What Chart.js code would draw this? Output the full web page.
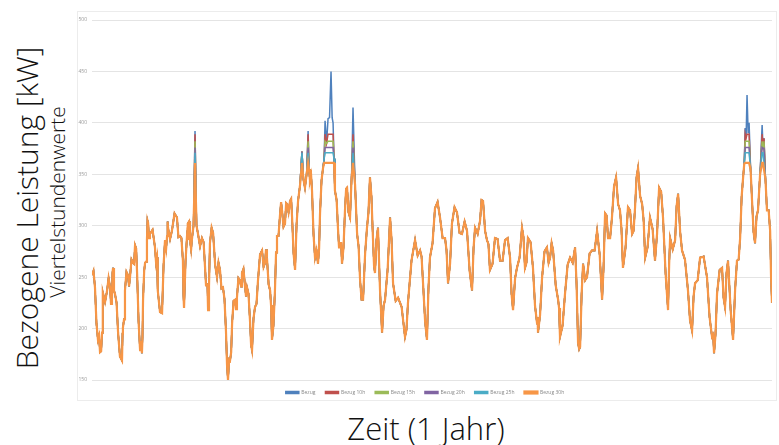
<!DOCTYPE html>
<html><head><meta charset="utf-8">
<script src="https://cdn.jsdelivr.net/npm/chart.js@4"></script>
<style>
html,body{margin:0;padding:0;background:#fff;width:779px;height:445px;overflow:hidden;font-family:"Open Sans","Noto Sans",sans-serif;}
#box{position:absolute;left:77px;top:11px;width:698px;height:388px;border:1px solid #ececec;background:#fff;}
#c{position:absolute;left:0;top:0;display:block}
.lbl{position:absolute;color:#111;white-space:nowrap;font-weight:300;line-height:1;}
#yt{left:27px;top:208px;font-size:30px;transform:translate(-50%,-50%) rotate(-90deg);}
#ys{left:57px;top:202px;font-size:21px;transform:translate(-50%,-50%) rotate(-90deg);}
#xt{left:426px;top:428px;font-size:31px;transform:translate(-50%,-50%);}
</style></head>
<body>
<div id="box"><canvas id="c" width="698" height="393"></canvas></div>
<div class="lbl" id="yt">Bezogene Leistung [kW]</div>
<div class="lbl" id="ys">Viertelstundenwerte</div>
<div class="lbl" id="xt">Zeit (1 Jahr)</div>
<script>
// day of year of main readings
const days = [0,1.6,3.2,4.3,5.4,5.9,8.1,9.7,10.7,11.3,
12.3,14.0,16.1,16.6,17.7,19.3,20.4,22.0,23.1,24.2,
25.8,26.8,27.4,28.5,29.5,30.1,31.1,33.8,34.9,35.4,
37.6,39.2,40.3,40.8,42.9,45.6,47.2,48.8,49.4,51.0,
51.5,52.6,53.7,55.3,56.9,59.0,60.7,61.7,62.3,63.3,
65.0,67.1,68.7,70.3,71.9,73.0,74.1,75.2,76.8,77.8,
79.4,80.5,82.1,83.2,84.8,85.9,87.5,89.1,91.3,92.9,
93.9,95.6,96.6,98.2,99.3,100.9,102.0,103.6,104.7,106.3,
107.4,109.0,110.6,112.7,114.3,116.0,117.0,118.1,119.7,121.3,
122.4,124.0,125.1,126.7,128.3,129.4,130.4,132.1,133.1,134.2,
135.8,136.9,138.5,140.1,142.3,143.9,145.5,147.6,149.2,150.8,
151.9,153.5,155.7,157.3,160.0,161.6,164.3,168.0,169.6,173.4,
176.1,177.7,179.8,181.4,184.1,186.8,189.5,191.1,193.2,195.9,
198.6,201.3,204.0,205.6,208.3,209.9,212.0,213.6,216.3,219.0,
221.7,224.4,226.0,228.1,230.8,232.4,234.0,236.7,238.9,239.4,
241.6,244.2,245.9,247.5,250.2,251.2,253.9,256.6,259.3,260.9,
262.0,263.6,265.7,268.4,271.1,273.8,275.4,277.0,279.1,281.3,
283.4,285.0,287.7,289.9,291.5,293.1,295.3,296.9,299.5,302.2,
304.4,306.5,309.2,310.3,313.0,314.6,316.7,319.9,322.1,323.7,
326.4,330.1,332.8,333.9,335.5,338.2,339.8,341.4,344.1,346.2,
347.9,349.5,350.6,351.6,352.7,354.3,355.9,357.5,359.7,360.7,
362.3,364.0,365.0];
// measured load (kW), uncapped
const load = [252,240,189,177,196,235,237,240,228,259,
234,196,169,201,237,252,250,264,281,254,
179,176,228,264,286,303,292,279,269,237,
215,286,290,298,295,308,290,266,220,290,
302,286,288,392,292,288,259,244,218,283,
293,250,257,240,198,150,169,205,228,230,
247,254,242,240,208,179,221,247,276,264,
269,237,189,237,290,310,315,302,321,324,
308,257,324,372,337,392,344,334,269,263,
312,356,402,404,450,400,334,295,283,263,
315,337,308,415,292,247,228,298,347,288,
254,298,196,228,308,244,230,192,225,286,
276,244,189,269,317,308,288,244,302,313,
292,295,237,298,305,324,286,257,288,266,
286,269,218,259,298,259,288,259,205,196,
250,279,269,276,228,192,234,269,279,186,
182,263,250,276,295,228,312,288,308,347,
315,259,318,292,318,356,321,269,308,266,
337,308,218,288,286,331,276,237,198,244,
269,250,192,176,234,259,221,266,189,266,
288,347,395,427,400,324,283,315,398,385,
315,295,225];
// in-between readings (short-term fluctuation)
const midDays = [0.8,2.4,3.8,4.9,5.7,7.0,8.9,10.2,11.0,11.8,
13.2,15.0,16.4,17.2,18.5,19.9,21.2,22.6,23.7,25.0,
26.3,27.1,28.0,29.0,29.8,30.6,32.5,34.4,35.2,36.5,
38.4,39.8,40.6,41.9,44.3,46.4,48.0,49.1,50.2,51.3,
52.1,53.2,54.5,56.1,58.0,59.9,61.2,62.0,62.8,64.2,
66.1,67.9,69.5,71.1,72.5,73.6,74.7,76.0,77.3,78.6,
80.0,81.3,82.7,84.0,85.4,86.7,88.3,90.2,92.1,93.4,
94.8,96.1,97.4,98.8,100.1,101.5,102.8,104.2,105.5,106.9,
108.2,109.8,111.7,113.5,115.2,116.5,117.6,118.9,120.5,121.9,
123.2,124.6,125.9,127.5,128.9,129.9,131.3,132.6,133.7,135.0,
136.4,137.7,139.3,141.2,143.1,144.7,146.6,148.4,150.0,151.4,
152.7,154.6,156.5,158.7,160.8,163.0,166.2,168.8,171.5,174.8,
176.9,178.8,180.6,182.8,185.5,188.2,190.3,192.2,194.6,197.3,
200.0,202.7,204.8,207.0,209.1,211.0,212.8,215.0,217.7,220.4,
223.1,225.2,227.1,229.5,231.6,233.2,235.4,237.8,239.2,240.5,
242.9,245.1,246.7,248.9,250.7,252.6,255.3,258.0,260.1,261.5,
262.8,264.7,267.1,269.8,272.5,274.6,276.2,278.1,280.2,282.4,
284.2,286.4,288.8,290.7,292.3,294.2,296.1,298.2,300.9,303.3,
305.5,307.9,309.8,311.7,313.8,315.7,318.3,321.0,322.9,325.1,
328.3,331.5,333.4,334.7,336.9,339.0,340.6,342.8,345.2,347.1,
348.7,350.1,351.1,352.2,353.5,355.1,356.7,358.6,360.2,361.5,
363.2,364.5];
const midLoad = [256,205,193,178,226,226,249,224,254,237,
225,173,195,209,255,241,267,263,278,207,
188,192,256,265,305,288,296,264,263,216,
261,278,304,287,312,289,288,233,265,286,
304,277,300,300,280,284,242,241,241,298,
262,264,239,229,164,170,177,227,219,249,
241,258,231,234,184,210,224,272,260,277,
243,223,203,274,290,323,299,322,313,326,
273,301,340,345,350,355,349,292,276,278,
344,365,380,405,405,365,325,279,283,279,
336,313,345,340,280,228,273,313,328,261,
286,237,222,258,286,227,221,199,266,271,
270,207,239,283,323,288,276,263,318,293,
304,256,278,292,325,295,282,263,287,266,
288,234,249,269,289,264,284,222,211,213,
275,264,283,242,220,203,262,264,243,180,
233,247,273,276,272,260,310,288,338,321,
297,279,315,295,347,329,305,279,297,292,
333,253,263,277,319,294,267,208,231,247,
270,211,194,195,257,230,254,218,238,267,
328,360,385,390,355,294,309,350,375,345,
315,250];
// series names and peak limits (kW) read from the plateaus
const seriesNames = ["Bezug","Bezug 10h","Bezug 15h","Bezug 20h","Bezug 25h","Bezug 30h"];
const limits = [null,389,382,376,371,361];
const colors = ["#4F81BD","#C0504D","#9BBB59","#8064A2","#4BACC6","#F79646"];
const yTicks = [150,200,250,300,350,400,450,500];

// merge main and in-between readings in time order
const pts = [];
for (let k=0;k<days.length;k++){
  pts.push([days[k],load[k]]);
  if (k<midDays.length) pts.push([midDays[k],midLoad[k]]);
}

const datasets = seriesNames.map((name,i)=>({
  label:name,
  data: pts.map(p=>({x:p[0], y: limits[i]==null ? p[1] : Math.min(p[1], limits[i])})),
  borderColor:colors[i], backgroundColor:colors[i],
  borderWidth: i===5 ? 2.2 : 1.5, pointRadius:0, tension:0,
  order: 5-i
}));

new Chart(document.getElementById('c'),{
  type:'line',
  data:{datasets},
  options:{
    responsive:false, animation:false, events:[],
    layout:{padding:{left:0,right:4,top:6,bottom:0}},
    plugins:{
      tooltip:{enabled:false},
      legend:{position:'bottom',
        labels:{font:{size:5,family:'Open Sans'},color:'#888',boxWidth:13,boxHeight:2,padding:10,
          sort:(a,b)=>a.datasetIndex-b.datasetIndex}}
    },
    scales:{
      x:{type:'linear',min:0,max:365,display:false},
      y:{min:150,max:500,
        afterBuildTicks:(s)=>{s.ticks=yTicks.map(v=>({value:v}));},
        afterFit:(s)=>{s.width=14;},
        border:{display:false},
        grid:{color:'#e4e4e4',drawTicks:false},
        ticks:{font:{size:5,family:'Open Sans'},color:'#999',padding:5}}
    }
  }
});
</script>
</body></html>
